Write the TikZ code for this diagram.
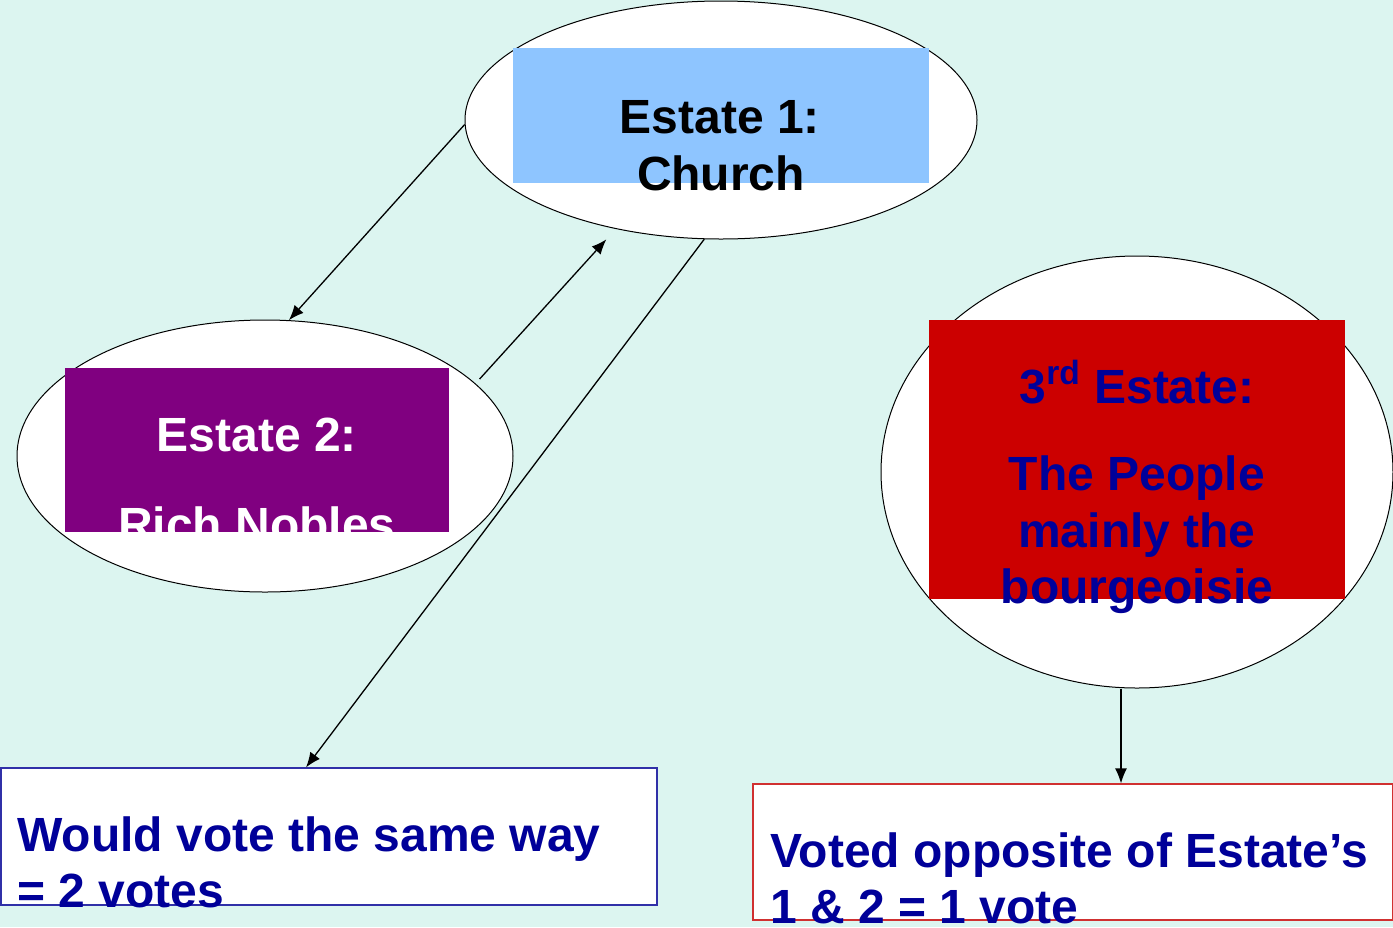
\documentclass[tikz,border=0pt]{standalone}
\usepackage{fontspec}
\setmainfont{Liberation Sans}
\usetikzlibrary{arrows.meta,shapes.geometric,calc}
\definecolor{bgc}{HTML}{DCF5F0}
\definecolor{bluebox}{HTML}{8EC5FF}
\definecolor{purplebox}{HTML}{800080}
\definecolor{redbox}{HTML}{CC0000}
\definecolor{dblue}{HTML}{000099}
\definecolor{lboxline}{HTML}{3030A8}
\definecolor{rboxline}{HTML}{D03030}
\begin{document}
\begin{tikzpicture}[x=0.5pt,y=-0.5pt,
  oval/.style={ellipse,draw=black,line width=0.5pt,fill=white,inner sep=0pt},
  panel/.style={rectangle,inner sep=0pt,draw=none},
  txt/.style={inner sep=0pt,font=\fontsize{24}{28}\selectfont\bfseries},
  outbox/.style={rectangle,fill=white,inner sep=0pt,line width=0.6pt},
  conn/.style={line width=0.65pt,-{Latex[length=7.5pt,width=6pt]}}]
\fill[bgc] (0,0) rectangle (1393,927);
\useasboundingbox (0,0) rectangle (1393,927);
% ellipses
\node[oval,minimum width=256pt,minimum height=119pt] (e1) at (721,120) {};
\node[oval,minimum width=248pt,minimum height=136pt] (e2) at (265,456) {};
\node[oval,minimum width=256pt,minimum height=216pt] (e3) at (1137,472) {};
% panels
\node[panel,fill=bluebox,minimum width=208pt,minimum height=67.5pt] (p1) at (721,115.5) {};
\node[panel,fill=purplebox,minimum width=192pt,minimum height=82pt] (p2) at (257,450) {};
\node[panel,fill=redbox,minimum width=208pt,minimum height=139.5pt] (p3) at (1137,459.5) {};
% texts
\node[txt,anchor=base,text=black] (t1a) at (720,133) {Estate 1:};
\node[txt,anchor=base,text=black] (t1b) at (721,190) {Church};
\node[txt,anchor=base,text=white] (t2a) at (257,451) {Estate 2:};
\node[txt,anchor=base,text=white] (t2b) at (257,541) {Rich Nobles};
\node[txt,anchor=base,text=dblue] (t3a) at (1137,403) {3\textsuperscript{rd} Estate:};
\node[txt,anchor=base,text=dblue] (t3b) at (1137,490) {The People};
\node[txt,anchor=base,text=dblue] (t3c) at (1137,547) {mainly the};
\node[txt,anchor=base,text=dblue] (t3d) at (1137,603) {bourgeoisie};
% output boxes
\node[outbox,draw=lboxline,minimum width=328pt,minimum height=68.5pt] (lbox) at (329,836.5) {};
\node[outbox,draw=rboxline,minimum width=320pt,minimum height=68pt] (rbox) at (1073,852) {};
\node[txt,anchor=base west,text=dblue] (lt1) at (17,851) {Would vote the same way};
\node[txt,anchor=base west,text=dblue] (lt2) at (17,907) {= 2 votes};
\node[txt,anchor=base west,text=dblue] (rt1) at (770,867) {Voted opposite of Estate’s};
\node[txt,anchor=base west,text=dblue] (rt2) at (770,923) {1 \& 2 = 1 vote};
% connectors
\draw[conn] (e1.181.8) -- (e2.80);
\draw[conn,shorten <=3pt,shorten >=7pt] (e2.19) -- (e1.226.6);
\draw[conn] (e1.262.4) -- ([xshift=-11.5pt]lbox.north);
\draw[conn] ([xshift=-8pt]e3.south) -- ([xshift=-8pt]e3.south |- rbox.north);
\end{tikzpicture}
\end{document}
